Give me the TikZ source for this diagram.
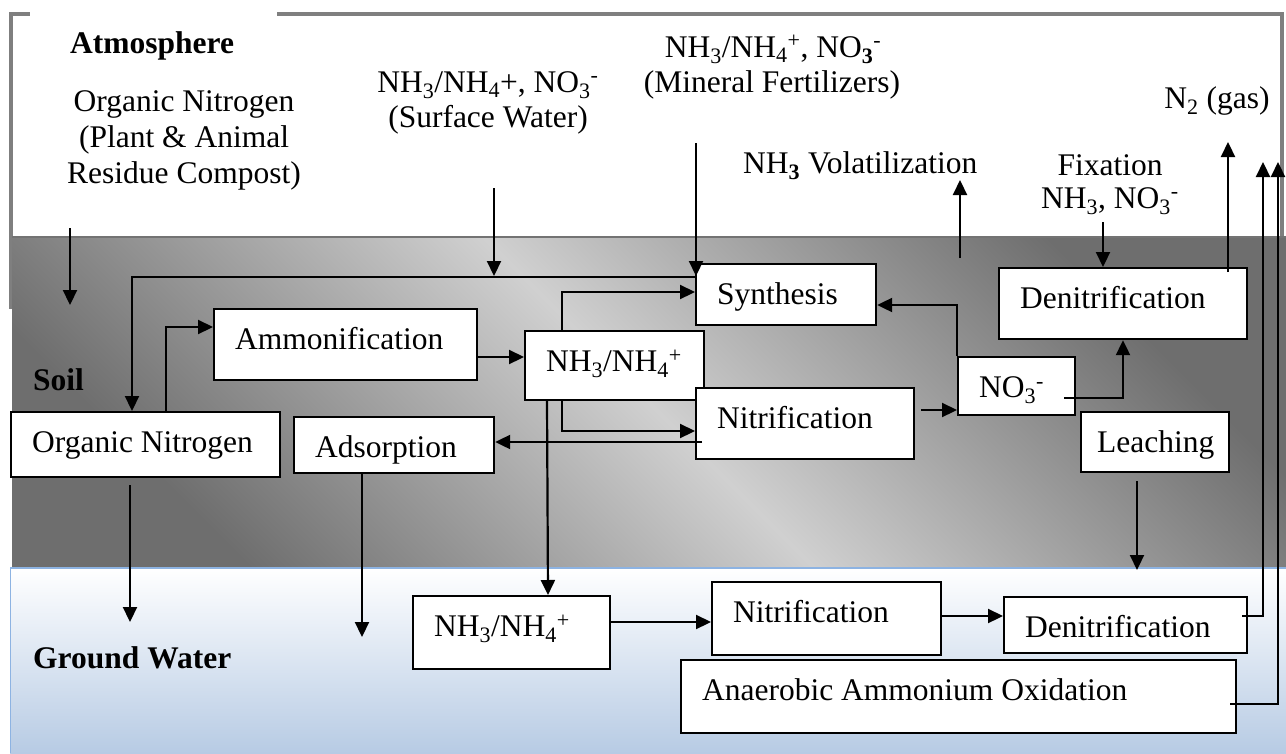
\documentclass[tikz,border=0pt]{standalone}
\usepackage{fontspec}
\setmainfont{Liberation Serif}
\usetikzlibrary{arrows.meta,calc}
\definecolor{soildark}{HTML}{6E6E6E}
\definecolor{soillight}{HTML}{D0D0D0}
\definecolor{gwblue}{HTML}{B7CBE4}
\definecolor{gwline}{HTML}{8DB3E2}
\definecolor{framegray}{HTML}{7F7F7F}
\newcommand{\sbs}[1]{\textsubscript{#1}}
\newcommand{\sps}[1]{\textsuperscript{#1}}
\begin{document}
\begin{tikzpicture}[x=1pt,y=-1pt,
  font=\fontsize{31.5pt}{36pt}\selectfont,
  bx/.style={draw=black, line width=2.2pt, fill=white, anchor=north west,
    inner ysep=0pt, inner xsep=21pt, align=flush left, text height=40pt},
  lbl/.style={inner sep=0pt, anchor=base},
  bold/.style={inner sep=0pt, anchor=base west, font=\fontsize{31.5pt}{36pt}\selectfont\bfseries},
  arr/.style={line width=2.2pt, -{Triangle[length=15pt,width=14pt]}}
]
\useasboundingbox (0,0) rectangle (1286,753);
% regions
\draw[framegray, line width=4pt, fill=white] (10.5,13.5) rectangle (1282,307);
\fill[white] (30,11) rectangle (277,15.8);
\shade[top color=soildark, bottom color=soildark, middle color=soillight, shading angle=-45]
  (12,237) rectangle (1286,568);
\draw[black!55, line width=2pt] (12,237) -- (1286,237);
\shade[top color=white, bottom color=gwblue] (10,568) rectangle (1286,753);
\draw[gwline, line width=2pt] (10,568) -- (1286,568);
\draw[gwline, line width=1.5pt] (10.5,568) -- (10.5,753);

% boxes
\node[bx, text width=227pt, text depth=25pt] (orgN) at (10,411) {Organic Nitrogen};
\node[bx, text width=221pt, text depth=31pt] (ammon) at (213,308) {Ammonification};
\node[bx, text width=137pt, text depth=29pt] (nh4s) at (524,330) {NH\sbs{3}/NH\sbs{4}\sps{+}};
\node[bx, text width=138pt, text depth=21pt] (synth) at (695,263) {Synthesis};
\node[bx, text width=176pt, text depth=31pt] (nitrs) at (695,387) {Nitrification};
\node[bx, text width=158pt, text depth=16pt] (adsorp) at (293,416) {Adsorption};
\node[bx, text width=206pt, text depth=31pt] (denits) at (998,267) {Denitrification};
\node[bx, text width=75pt, text depth=18pt] (no3) at (957,356) {NO\sbs{3}\sps{-}};
\node[bx, inner xsep=16pt, text width=116pt, text depth=20pt] (leach) at (1080,411) {Leaching};
\node[bx, text width=155pt, text depth=33pt] (nh4g) at (412,595) {NH\sbs{3}/NH\sbs{4}\sps{+}};
\node[bx, text width=187pt, text depth=33pt] (nitrg) at (711,581) {Nitrification};
\node[bx, text width=201pt, text depth=16pt] (denitg) at (1003,596) {Denitrification};
\node[bx, text width=513pt, text depth=33pt] (anam) at (680,659) {Anaerobic Ammonium Oxidation};

% free labels
\node[bold] (atm) at (70,53) {Atmosphere};
\node[bold] (soil) at (33,390) {Soil};
\node[bold] (gw) at (33,668) {Ground Water};
\node[lbl] (onA1) at (184,111) {Organic Nitrogen};
\node[lbl] (onA2) at (184,147) {(Plant \& Animal};
\node[lbl] (onA3) at (184,183) {Residue Compost)};
\node[lbl] (sw1) at (488,92) {NH\sbs{3}/NH\sbs{4}+, NO\sbs{3}\sps{-}};
\node[lbl] (sw2) at (488,127) {(Surface Water)};
\node[lbl] (mf1) at (773,57) {NH\sbs{3}/NH\sbs{4}\sps{+}, NO\sbs{\textbf{3}}\sps{-}};
\node[lbl] (mf2) at (772,92) {(Mineral Fertilizers)};
\node[lbl, anchor=base west] (vol) at (743,173) {NH\sbs{\textbf{3}} Volatilization};
\node[lbl] (n2) at (1217,108) {N\sbs{2} (gas)};
\node[lbl] (fix1) at (1110,175) {Fixation};
\node[lbl] (fix2) at (1110,208) {NH\sbs{3}, NO\sbs{3}\sps{-}};

% free ends
\coordinate (atmS) at (70,228);
\coordinate (atmE) at (70,305);
\coordinate (swS) at (494,188);
\coordinate (swE) at (494,276);
\coordinate (mfS) at (696,143);
\coordinate (volS) at (960,258);
\coordinate (volE) at (960,180);
\coordinate (fixS) at (1103,222);
\coordinate (n2E) at (1228,142);
\coordinate (upA) at (1263,162);
\coordinate (upB) at (1278,162);
\coordinate (orgE) at (130,622);
\coordinate (adsE) at (362,637);
\coordinate (leaE) at (1137,570);

% connectors
\draw[arr] (atmS) -- (atmE);
\draw[arr] (swS) -- (swE);
\draw[arr] (mfS) -- ($(synth.north west)+(1,13)$);
\draw[arr] ($(synth.north west)+(0,14)$) -| ($(orgN.north west)+(122,0)$);
\draw[arr] ($(orgN.north west)+(156,0)$) |- ($(ammon.north west)+(0,19)$);
\draw[arr] ($(ammon.north east)+(0,49)$) -- ($(nh4s.north west)+(0,27)$);
\draw[arr] ($(nh4s.north west)+(38,0)$) |- ($(synth.north west)+(0,29)$);
\draw[arr] ($(nh4s.south west)+(38,-2)$) |- ($(nitrs.north west)+(0,44)$);
\draw[arr] ($(nitrs.north west)+(7,55)$) -- ($(adsorp.north east)+(0,26)$);
\draw[arr] ($(nh4s.south west)+(23,0)$) -- ($(nh4g.north west)+(136,0)$);
\draw[arr] ($(orgN.south west)+(120,7)$) -- (orgE);
\draw[arr] ($(adsorp.south west)+(69,0)$) -- (adsE);
\draw[arr] ($(nitrs.north east)+(6,23)$) -- ($(no3.north west)+(0,54)$);
\draw[arr] (no3.north west) |- ($(synth.north east)+(0,42)$);
\draw[arr] ($(no3.north west)+(107,42)$) -| ($(denits.south west)+(125,0)$);
\draw[arr] (fixS) -- ($(denits.north west)+(105,0)$);
\draw[arr] ($(denits.north west)+(230,5)$) -- (n2E);
\draw[arr] (volS) -- (volE);
\draw[arr] ($(leach.south west)+(57,8)$) -- (leaE);
\draw[arr] ($(nh4g.north east)+(0,27)$) -- ($(nitrg.north west)+(0,41)$);
\draw[arr] ($(nitrg.north east)+(0,35)$) -- ($(denitg.north west)+(0,20)$);
\draw[arr] ($(denitg.north east)+(-6,20)$) -| (upA);
\draw[arr] ($(anam.north east)+(-7,45)$) -| (upB);
\end{tikzpicture}
\end{document}
